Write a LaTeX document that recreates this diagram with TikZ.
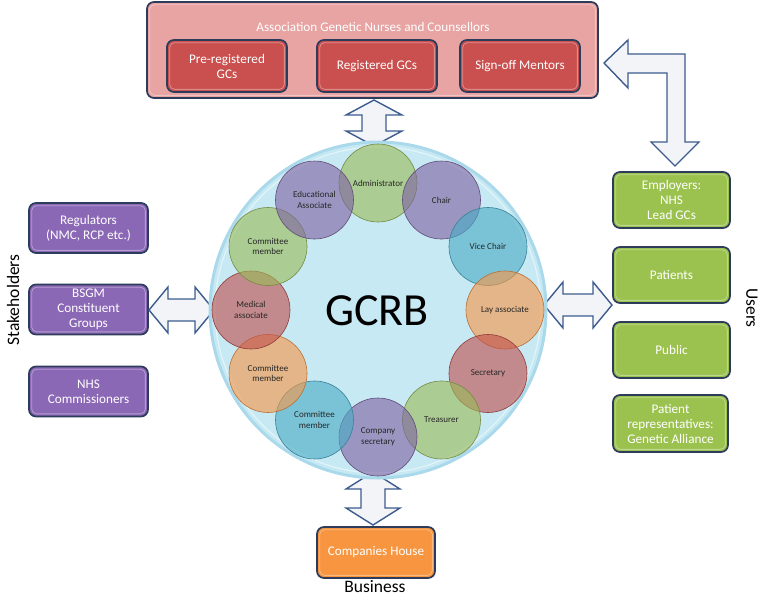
\documentclass[tikz,border=0pt]{standalone}
\usepackage{fontspec}
\setmainfont{Carlito}
\definecolor{navy}{HTML}{2E3C5C}
\definecolor{agncfill}{HTML}{E8A3A3}
\definecolor{redbox}{HTML}{C9504F}
\definecolor{purplebox}{HTML}{8B68B6}
\definecolor{greenbox}{HTML}{9BC24F}
\definecolor{orangebox}{HTML}{F79540}
\definecolor{arrowblue}{HTML}{3D5C8E}
\definecolor{arrowfill}{HTML}{F3F4F7}
\definecolor{bgblue}{HTML}{C7E9F4}
\definecolor{bgedge}{HTML}{A9D9EA}
\definecolor{cgreen}{HTML}{9BBB59}
\definecolor{cpurple}{HTML}{8064A2}
\definecolor{cblue}{HTML}{4BACC6}
\definecolor{corange}{HTML}{F79646}
\definecolor{cred}{HTML}{C0504D}
\tikzset{
  box/.style={draw=navy, line width=1.7pt, rounded corners=7pt, text=white, align=center,
    font=\fontsize{13.2}{15}\selectfont, inner sep=0pt},
  blockarrow/.style={draw=arrowblue, line width=1.4pt, fill=arrowfill, line join=miter},
  member/.style={circle, draw=#1!75!black, line width=0.6pt, fill=#1, fill opacity=0.62,
    text opacity=1, text=black!85, minimum size=78pt, inner sep=0pt, align=center,
    font=\fontsize{9}{10.5}\selectfont},
  sidelabel/.style={font=\fontsize{17.5}{19}\selectfont, text=black}
}
\newcommand{\bevel}[1]{%
  \draw[white, opacity=0.35, line width=0.8pt, rounded corners=5pt]
    ([shift={(3.5pt,-3.5pt)}]#1.north west) rectangle ([shift={(-3.5pt,3.5pt)}]#1.south east);}
% vertical double block arrow: cx, ytop, ybot, head half width, shaft half width, head length
\newcommand{\vdarrow}[6]{%
  \draw[blockarrow] (#1,#2) -- ({#1+#4},{#2+#6}) -- ({#1+#5},{#2+#6}) -- ({#1+#5},{#3-#6})
    -- ({#1+#4},{#3-#6}) -- (#1,#3) -- ({#1-#4},{#3-#6}) -- ({#1-#5},{#3-#6})
    -- ({#1-#5},{#2+#6}) -- ({#1-#4},{#2+#6}) -- cycle;}
% horizontal double block arrow: cy, xleft, xright, head half height, shaft half height, head length
\newcommand{\hdarrow}[6]{%
  \draw[blockarrow] (#2,#1) -- ({#2+#6},{#1-#4}) -- ({#2+#6},{#1-#5}) -- ({#3-#6},{#1-#5})
    -- ({#3-#6},{#1-#4}) -- (#3,#1) -- ({#3-#6},{#1+#4}) -- ({#3-#6},{#1+#5})
    -- ({#2+#6},{#1+#5}) -- ({#2+#6},{#1+#4}) -- cycle;}
\begin{document}
\begin{tikzpicture}[x=1pt,y=-1pt]
\useasboundingbox (0,0) rectangle (761,597);

% ---- top association box
\node[box, fill=agncfill, minimum width=451pt, minimum height=96pt] (agnc) at (372.5,50) {};
\bevel{agnc}
\node[text=white, font=\fontsize{13.2}{15}\selectfont] (agnctitle) at (373,27) {Association Genetic Nurses and Counsellors};
\node[box, fill=redbox, minimum width=120pt, minimum height=52pt] (pre) at (227,66) {Pre-registered\\GCs};
\node[box, fill=redbox, minimum width=120pt, minimum height=52pt] (reg) at (377,66) {Registered GCs};
\node[box, fill=redbox, minimum width=120pt, minimum height=52pt] (sign) at (520,66) {Sign-off Mentors};
\bevel{pre}\bevel{reg}\bevel{sign}

% ---- left stakeholder boxes
\node[box, fill=purplebox, minimum width=119pt, minimum height=50pt] (regul) at (88.5,228) {Regulators\\(NMC, RCP etc.)};
\node[box, fill=purplebox, minimum width=119pt, minimum height=50pt] (bsgm) at (88.5,309.5) {BSGM\\Constituent\\Groups};
\node[box, fill=purplebox, minimum width=119pt, minimum height=50pt] (nhsc) at (88.5,391.5) {NHS\\Commissioners};
\bevel{regul}\bevel{bsgm}\bevel{nhsc}
\node[sidelabel, rotate=90] (stake) at (13,300) {Stakeholders};

% ---- right user boxes
\node[box, fill=greenbox, minimum width=117pt, minimum height=56pt] (employ) at (671.5,200) {Employers:\\NHS\\Lead GCs};
\node[box, fill=greenbox, minimum width=117pt, minimum height=56pt] (patients) at (671.5,275) {Patients};
\node[box, fill=greenbox, minimum width=117pt, minimum height=56pt] (public) at (671.5,350) {Public};
\node[box, fill=greenbox, minimum width=115pt, minimum height=57pt] (preps) at (670.5,423.5) {Patient\\representatives:\\Genetic Alliance};
\bevel{employ}\bevel{patients}\bevel{public}\bevel{preps}
\node[sidelabel, rotate=-90] (users) at (752,308) {Users};

% ---- bottom business box
\node[box, fill=orangebox, minimum width=118pt, minimum height=51pt] (ch) at (376,552.5) {Companies House};
\bevel{ch}
\node[sidelabel] (business) at (375,587) {Business};

% ---- block arrows
\vdarrow{374}{100}{146}{28}{12}{15}
\vdarrow{373}{472}{525}{27}{12}{17}
\hdarrow{310}{149}{214}{23}{11}{19}
\hdarrow{305}{544}{612}{23}{11}{19}
\draw[blockarrow] (604,63) -- (628,40) -- (628,54) -- (685,54) -- (685,142) -- (699,142)
  -- (675,166) -- (651,142) -- (667,142) -- (667,73) -- (628,73) -- (628,88) -- cycle;

% ---- GCRB circle
\node[circle, minimum size=336pt, fill=bgblue, draw=bgedge, line width=3pt] (gcrb) at (378,310) {};
\draw[white, opacity=0.5, line width=1.2pt] (gcrb.center) circle (163pt);
\node[font=\fontsize{46}{46}\selectfont, text=black] (gcrbtext) at (377,311) {GCRB};

\foreach \ang/\nm/\col/\txt in {
   90/admin/cgreen/Administrator,
   60/chair/cpurple/Chair,
   30/vice/cblue/Vice Chair,
   0/lay/corange/Lay associate,
  -30/secr/cred/Secretary,
  -60/treas/cgreen/Treasurer,
  -90/comp/cpurple/{Company\\secretary},
 -120/cmb/cblue/{Committee\\member},
 -150/cmo/corange/{Committee\\member},
  180/med/cred/{Medical\\associate},
  150/cmg/cgreen/{Committee\\member},
  120/edu/cpurple/{Educational\\Associate}}{
  \node[member=\col] (\nm) at ({378+127*cos(\ang)},{310-127*sin(\ang)}) {\txt};
}
\end{tikzpicture}
\end{document}
